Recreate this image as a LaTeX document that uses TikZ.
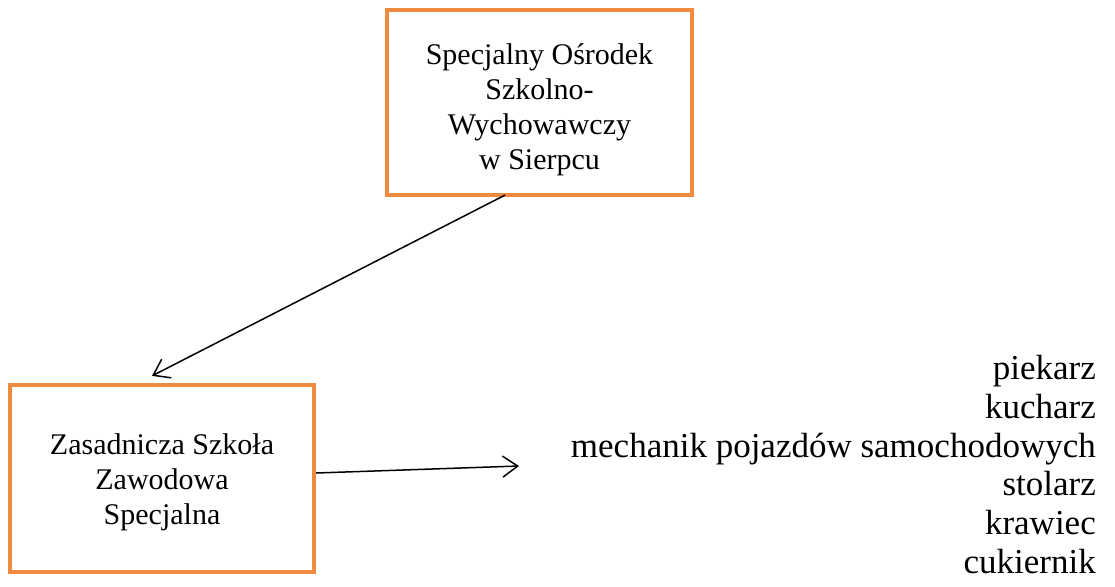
\documentclass[tikz,border=0pt]{standalone}
\usepackage{fontspec}
\setmainfont{Liberation Serif}
\usetikzlibrary{arrows.meta}
\definecolor{boxorange}{RGB}{240,138,62}
\begin{document}
\begin{tikzpicture}[x=1pt,y=-1pt,
  orgbox/.style={draw=boxorange,line width=4.2pt,minimum width=305pt,inner sep=0pt,align=center,font=\fontsize{30}{35}\selectfont},
  arr/.style={line width=1.5pt,-{Straight Barb[length=15pt,width=21pt,line width=1.5pt]}},
  listtext/.style={align=right,inner sep=0pt,font=\fontsize{35}{38.8}\selectfont}]
\useasboundingbox[fill=white] (0,0) rectangle (1115,586);
\node[orgbox,minimum height=185pt] (top) at (539.5,102.5) {\rule{0pt}{35pt}Specjalny Ośrodek\\Szkolno-\\Wychowawczy\\w Sierpcu};
\node[orgbox,minimum width=304pt,minimum height=187pt] (bot) at (162,478.5) {\rule{0pt}{29pt}Zasadnicza Szkoła\\Zawodowa\\Specjalna};
\node[listtext,anchor=north east] (list) at (1096,355) {piekarz\\kucharz\\mechanik pojazdów samochodowych\\stolarz\\krawiec\\cukiernik};
\path (top.south) ++(-34.5,-2) coordinate (s1);
\path (bot.north) ++(-10,-7) coordinate (e1);
\path (bot.east) ++(0,-5.5) coordinate (s2);
\coordinate (e2) at (519,466);
\draw[arr] (s1) -- (e1);
\draw[arr] (s2) -- (e2);
\end{tikzpicture}
\end{document}
